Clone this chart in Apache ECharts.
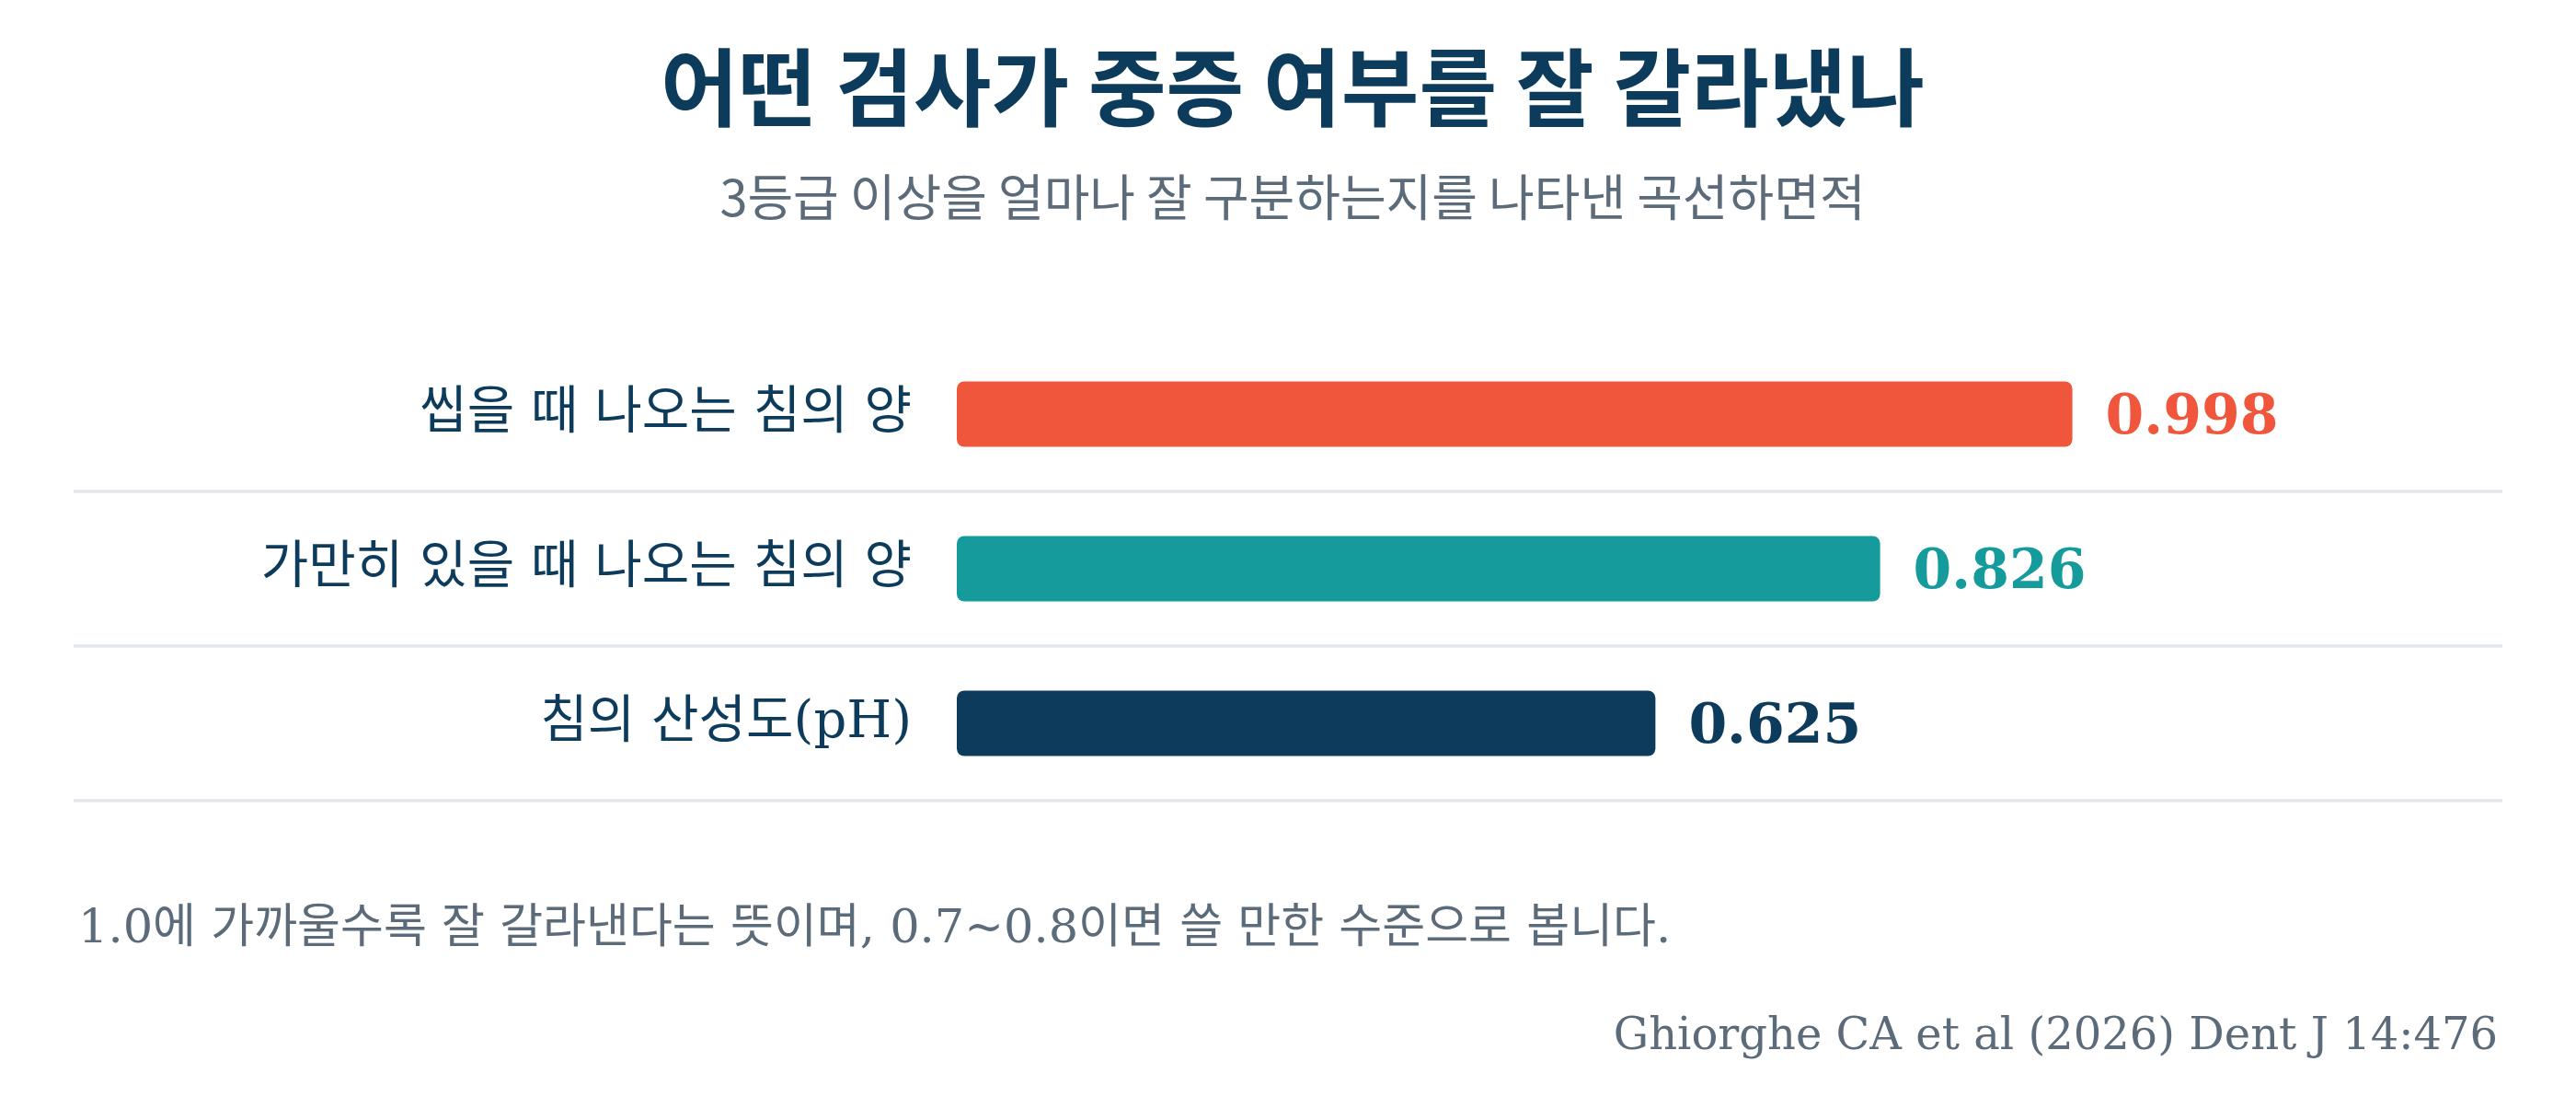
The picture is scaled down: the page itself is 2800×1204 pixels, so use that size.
<!DOCTYPE html>
<html>
<head>
<meta charset="utf-8">
<script src="https://cdn.jsdelivr.net/npm/echarts@6/dist/echarts.min.js"></script>
<style>
  html, body { margin: 0; padding: 0; background: #fff; }
  #chart { width: 2800px; height: 1204px; }
</style>
</head>
<body>
<div id="chart"></div>
<script>
const categories = ['씹을 때 나오는 침의 양', '가만히 있을 때 나오는 침의 양', '침의 산성도(pH)'];
const aucValues = [0.998, 0.826, 0.625];
const barColors = ['#f0563c', '#169b9d', '#0d3b5c'];

const titleText = '어떤 검사가 중증 여부를 잘 갈라냈나';
const subtitleText = '3등급 이상을 얼마나 잘 구분하는지를 나타낸 곡선하면적';
const noteText = '1.0에 가까울수록 잘 갈라낸다는 뜻이며, 0.7~0.8이면 쓸 만한 수준으로 봅니다.';
const sourceText = 'Ghiorghe CA et al (2026) Dent J 14:476';

const serifKo = "'DejaVu Serif', 'Noto Sans CJK KR', serif";
const sansKo = "'Noto Sans CJK KR', sans-serif";

const chart = echarts.init(document.getElementById('chart'), null, { renderer: 'canvas' });

const option = {
  backgroundColor: '#ffffff',
  animation: false,
  title: [
    {
      text: titleText, left: 1400, top: 44, textAlign: 'center',
      textStyle: { fontFamily: sansKo, fontSize: 92, fontWeight: 'bold', color: '#0d3b5c', lineHeight: 92 }
    },
    {
      text: subtitleText, left: 1400, top: 182, textAlign: 'center',
      textStyle: { fontFamily: sansKo, fontSize: 54, fontWeight: 'normal', color: '#5c6b7a', lineHeight: 54 }
    },
    {
      text: noteText, left: 80, top: 980,
      textStyle: { fontFamily: serifKo, fontSize: 51, fontWeight: 'normal', color: '#5c6b7a', lineHeight: 51 }
    },
    {
      text: sourceText, right: 80, top: 1099,
      textStyle: { fontFamily: serifKo, fontSize: 48, fontWeight: 'normal', color: '#5c6b7a', lineHeight: 48 }
    }
  ],
  grid: [
    // bars
    { left: 1040, right: 545, top: 366, height: 504, containLabel: false },
    // row separators
    { left: 80, right: 80, top: 534, height: 336, containLabel: false }
  ],
  xAxis: [
    { gridIndex: 0, type: 'value', min: 0, max: 1, show: false },
    { gridIndex: 1, type: 'value', min: 0, max: 1, show: false }
  ],
  yAxis: [
    {
      gridIndex: 0, type: 'category', data: categories, inverse: true,
      axisLine: { show: false }, axisTick: { show: false }, splitLine: { show: false },
      axisLabel: { margin: 49, fontFamily: serifKo, fontSize: 56, color: '#0d3b5c' }
    },
    {
      gridIndex: 1, type: 'value', min: 0, max: 2, interval: 1,
      axisLine: { show: false }, axisTick: { show: false }, axisLabel: { show: false },
      splitLine: { show: true, lineStyle: { color: '#e3e7ec', width: 3.5 } }
    }
  ],
  series: [
    {
      type: 'bar',
      xAxisIndex: 0, yAxisIndex: 0,
      barWidth: 71,
      data: aucValues.map((v, i) => ({
        value: v,
        itemStyle: { color: barColors[i], borderRadius: 8 },
        label: { color: barColors[i] }
      })),
      label: {
        show: true, position: 'right', distance: 36, offset: [0, 5],
        fontFamily: "'DejaVu Serif', serif", fontWeight: 'bold', fontSize: 60,
        formatter: p => p.value.toFixed(3)
      }
    }
  ]
};

chart.setOption(option);
</script>
</body>
</html>
